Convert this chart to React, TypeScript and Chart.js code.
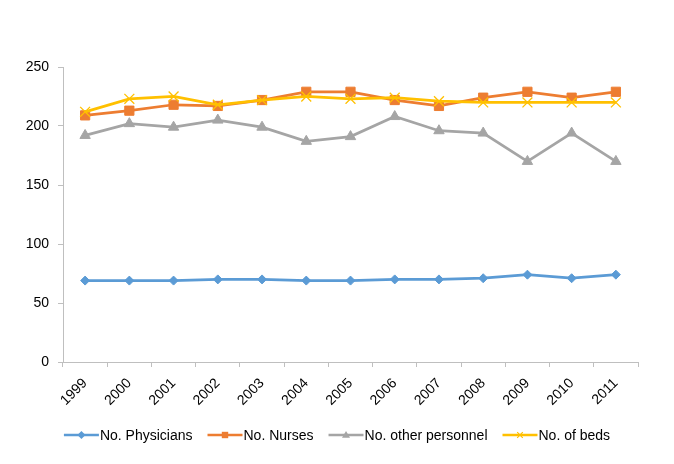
import React, { useEffect, useRef } from "react";
import { Chart, registerables } from "chart.js";

Chart.register(...registerables);

const years = ["1999", "2000", "2001", "2002", "2003", "2004", "2005", "2006", "2007", "2008", "2009", "2010", "2011"];
const physicians = [69, 69, 69, 70, 70, 69, 69, 70, 70, 71, 74, 71, 74];
const nurses = [209, 213, 218, 217, 222, 229, 229, 222, 217, 224, 229, 224, 229];
const otherPersonnel = [192, 202, 199, 205, 199, 187, 191, 208, 196, 194, 170, 194, 170];
const beds = [212, 223, 225, 218, 222, 225, 223, 224, 221, 220, 220, 220, 220];

const FONT = "'Liberation Sans', Arial, sans-serif";
const AXIS = "#bfbfbf";

function drawPoint(ctx: CanvasRenderingContext2D, style: string, r: number, x: number, y: number) {
  ctx.beginPath();
  switch (style) {
    case "rectRot":
      ctx.moveTo(x, y - r);
      ctx.lineTo(x + r, y);
      ctx.lineTo(x, y + r);
      ctx.lineTo(x - r, y);
      ctx.closePath();
      ctx.fill();
      break;
    case "rect":
      ctx.rect(x - r * 0.8, y - r * 0.8, r * 1.6, r * 1.6);
      ctx.fill();
      break;
    case "triangle":
      ctx.moveTo(x, y - r);
      ctx.lineTo(x + r, y + r * 0.7);
      ctx.lineTo(x - r, y + r * 0.7);
      ctx.closePath();
      ctx.fill();
      break;
    case "crossRot":
      ctx.lineWidth = 1.2;
      ctx.moveTo(x - r * 0.7, y - r * 0.7);
      ctx.lineTo(x + r * 0.7, y + r * 0.7);
      ctx.moveTo(x + r * 0.7, y - r * 0.7);
      ctx.lineTo(x - r * 0.7, y + r * 0.7);
      ctx.stroke();
      break;
  }
}

const legendPlugin = {
  id: "customLegend",
  afterDraw(chart: any) {
    const ctx = chart.ctx;
    const items = chart.data.datasets.map((d: any) => ({
      label: d.label,
      color: d.borderColor,
      style: d.pointStyle,
    }));
    ctx.save();
    ctx.font = `14px ${FONT}`;
    const lineW = 35;
    const gapAfterLine = 1;
    const gapBetween = 15;
    const widths = items.map((it: any) => lineW + gapAfterLine + ctx.measureText(it.label).width);
    const total = widths.reduce((a: number, b: number) => a + b, 0) + gapBetween * (items.length - 1);
    let x = (chart.width - total) / 2;
    const y = 435;
    items.forEach((it: any, i: number) => {
      ctx.strokeStyle = it.color;
      ctx.lineWidth = 2.5;
      ctx.beginPath();
      ctx.moveTo(x, y);
      ctx.lineTo(x + lineW, y);
      ctx.stroke();
      ctx.fillStyle = it.color;
      ctx.strokeStyle = it.color;
      drawPoint(ctx, it.style, 4, x + lineW / 2, y);
      ctx.fillStyle = "#000";
      ctx.textBaseline = "middle";
      ctx.textAlign = "left";
      ctx.fillText(it.label, x + lineW + gapAfterLine, y + 1);
      x += widths[i] + gapBetween;
    });
    ctx.restore();
  },
};

export default function App() {
  const ref = useRef<HTMLCanvasElement | null>(null);
  useEffect(() => {
    if (!ref.current) return;
    const mk = (label: string, data: number[], color: string, style: string, radius: number, order: number) => ({
      label,
      data,
      borderColor: color,
      backgroundColor: color,
      pointBackgroundColor: color,
      pointBorderColor: color,
      pointStyle: style,
      pointRadius: radius,
      pointBorderWidth: style === "crossRot" ? 1.3 : 1,
      borderWidth: 2.75,
      tension: 0,
      order,
    });
    const chart = new Chart(ref.current, {
      type: "line",
      data: {
        labels: years,
        datasets: [
          mk("No. Physicians", physicians, "#5B9BD5", "rectRot", 4.5, 3),
          mk("No. Nurses", nurses, "#ED7D31", "rect", 6.5, 2),
          mk("No. other personnel", otherPersonnel, "#A5A5A5", "triangle", 6, 1),
          mk("No. of beds", beds, "#FFC000", "crossRot", 7, 0),
        ] as any,
      },
      options: {
        animation: false,
        responsive: false,
        maintainAspectRatio: false,
        layout: { padding: { left: 0, top: 67, right: 36, bottom: 0 } },
        plugins: {
          legend: { display: false },
          tooltip: { enabled: false },
        },
        scales: {
          x: {
            offset: true,
            grid: {
              offset: true,
              drawOnChartArea: false,
              drawTicks: true,
              tickLength: 5,
              color: AXIS,
            },
            border: { color: AXIS, width: 1 },
            ticks: {
              maxRotation: 45,
              minRotation: 45,
              padding: 8,
              color: "#000",
              font: { family: FONT, size: 14 },
            },
            afterFit: (s: any) => {
              s.height = 102;
            },
          },
          y: {
            min: 0,
            max: 250,
            ticks: {
              stepSize: 50,
              padding: 9,
              color: "#000",
              font: { family: FONT, size: 14 },
            },
            grid: {
              drawOnChartArea: false,
              drawTicks: true,
              tickLength: 5,
              color: AXIS,
            },
            border: { color: AXIS, width: 1 },
            afterFit: (s: any) => {
              s.width = 63;
            },
          },
        },
      },
      plugins: [legendPlugin],
    });
    return () => chart.destroy();
  }, []);
  return (
    <div style={{ position: "fixed", left: 0, top: 0, width: 674, height: 464, background: "#fff" }}>
      <canvas ref={ref} width={674} height={464} style={{ display: "block", width: 674, height: 464 }} />
    </div>
  );
}
